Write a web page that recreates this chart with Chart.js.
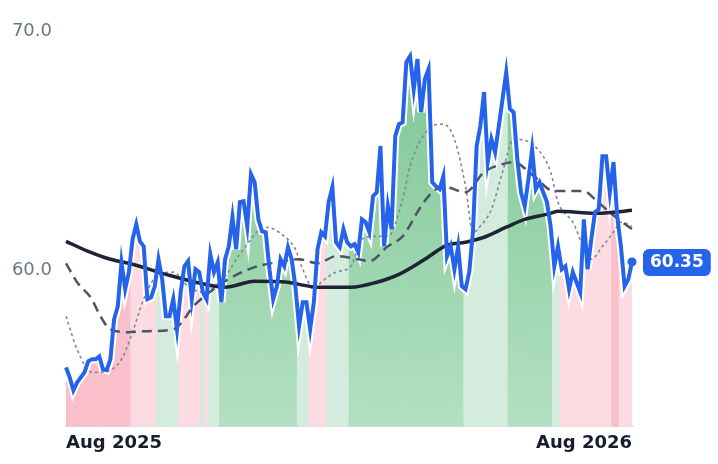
<!DOCTYPE html>
<html>
<head>
<meta charset="utf-8">
<script src="https://cdn.jsdelivr.net/npm/chart.js@4"></script>
<style>
  html, body { margin: 0; padding: 0; background: #fff; }
  #wrap { width: 718px; height: 464px; }
</style>
</head>
<body>
<div id="wrap"><canvas id="chart"></canvas></div>
<script>
const priceValues = [
  55.94, 55.52, 54.98, 55.31, 55.52, 55.73, 56.19, 56.28, 56.28, 56.40,
  55.86, 55.82, 56.28, 57.95, 58.49, 60.33, 59.21, 59.92, 61.30, 61.92,
  61.21, 61.00, 58.79, 58.87, 59.33, 60.46, 59.62, 58.08, 58.08, 58.79,
  57.53, 59.08, 60.17, 60.38, 58.79, 60.04, 59.92, 59.08, 58.79, 60.67,
  59.92, 60.33, 58.66, 60.46, 61.00, 62.22, 60.88, 62.85, 62.89, 61.84,
  64.02, 63.68, 62.13, 61.63, 61.59, 60.04, 58.79, 59.33, 60.46, 60.17,
  60.96, 60.46, 59.33, 57.66, 58.66, 58.66, 57.53, 58.66, 60.88, 61.59,
  61.42, 62.85, 63.47, 61.17, 60.96, 61.72, 61.17, 61.00, 61.09, 60.75,
  62.13, 62.01, 61.59, 63.10, 63.26, 65.19, 61.00, 62.68, 61.72, 65.61,
  66.11, 66.19, 68.70, 68.95, 67.57, 68.83, 66.61, 67.99, 68.41, 63.68,
  63.51, 63.39, 63.93, 60.59, 61.00, 60.04, 61.00, 59.33, 59.21, 59.92,
  61.59, 65.19, 66.03, 67.45, 64.52, 65.48, 64.94, 66.03, 67.15, 68.28,
  66.74, 66.61, 64.64, 63.26, 62.68, 63.81, 65.06, 63.39, 63.68, 63.26,
  62.85, 61.84, 60.17, 61.00, 60.04, 60.17, 59.21, 59.92, 59.50, 59.08,
  62.13, 60.04, 61.30, 62.43, 62.55, 64.77, 64.77, 63.26, 64.52, 62.26,
  61.00, 59.33, 59.62, 60.35
];

// [start index, regime]  D strong sell, P sell, g buy, G strong buy
const regimeStarts = [
  [0, 'D'], [18, 'P'], [25, 'g'], [31, 'P'], [37, 'g'], [38, 'P'], [39, 'g'],
  [42, 'G'], [63, 'g'], [66, 'P'], [71, 'g'], [77, 'G'], [108, 'g'], [120, 'G'],
  [132, 'g'], [134, 'P'], [148, 'D'], [150, 'P']
];

// moving averages, read at sample points: [index, value]
const maLong = [
  [0, 61.21], [6, 60.79], [12, 60.46], [18, 60.25], [27, 59.83], [35, 59.50],
  [43, 59.29], [51, 59.54], [60, 59.50], [63, 59.41], [68, 59.29], [77, 59.29],
  [84, 59.50], [90, 59.83], [97, 60.46], [103, 61.05], [108, 61.17], [113, 61.38],
  [119, 61.80], [124, 62.13], [131, 62.38], [133, 62.47], [143, 62.38], [148, 62.43],
  [153, 62.51]
];
const maMid = [
  [0, 60.29], [3, 59.50], [7, 58.79], [9, 58.16], [12, 57.53], [17, 57.41],
  [21, 57.45], [29, 57.53], [35, 58.58], [43, 59.54], [51, 60.13], [57, 60.33],
  [63, 60.46], [68, 60.29], [73, 60.59], [79, 60.46], [82, 60.38], [87, 61.00],
  [91, 61.42], [96, 62.68], [99, 63.26], [102, 63.51], [108, 63.26], [113, 64.10],
  [118, 64.44], [121, 64.52], [126, 64.00], [132, 63.31], [140, 63.31], [143, 62.97],
  [146, 62.55], [150, 62.05], [153, 61.72]
];
const maShort = [
  [0, 58.08], [3, 56.69], [7, 55.73], [11, 55.77], [15, 56.28], [18, 57.41],
  [21, 58.79], [25, 59.83], [29, 59.92], [33, 59.33], [37, 59.08], [43, 59.75],
  [47, 60.67], [54, 61.80], [59, 61.42], [62, 60.88], [64, 60.04], [67, 59.21],
  [69, 59.50], [73, 59.92], [77, 60.17], [80, 61.30], [84, 61.42], [87, 61.42],
  [91, 62.97], [93, 64.35], [98, 65.90], [102, 66.11], [105, 65.48], [108, 63.51],
  [110, 61.59], [112, 61.84], [115, 62.55], [118, 64.10], [121, 65.48], [127, 65.15],
  [131, 64.10], [133, 62.85], [137, 62.01], [142, 60.46], [145, 61.00], [148, 61.59],
  [150, 62.01], [153, 61.84]
];

const xTickLabels = ['Aug 2025', 'Aug 2026'];
const yTicks = [60, 70];

const n = priceValues.length;
const labels = priceValues.map((_, i) => i === 0 ? xTickLabels[0] : (i === n - 1 ? xTickLabels[1] : ''));

function sparse(pairs) {
  const arr = new Array(n).fill(null);
  pairs.forEach(([i, v]) => { arr[i] = v; });
  return arr;
}

const regimeOf = priceValues.map((_, i) => {
  let r = regimeStarts[0][1];
  regimeStarts.forEach(([s, code]) => { if (i >= s) r = code; });
  return r;
});

function barColor(ctx) {
  const chart = ctx.chart;
  const area = chart.chartArea;
  const code = regimeOf[ctx.dataIndex];
  if (code === 'G' && area) {
    const g = chart.ctx.createLinearGradient(0, area.top, 0, area.bottom);
    g.addColorStop(0, '#78c48f');
    g.addColorStop(1, '#b3e0c2');
    return g;
  }
  if (code === 'g') return '#d3ecde';
  if (code === 'D') return '#f9bfca';
  return '#fcdce2';
}

const lastLabel = {
  id: 'lastLabel',
  afterDatasetsDraw(chart) {
    const meta = chart.getDatasetMeta(1);
    const pt = meta.data[meta.data.length - 1];
    if (!pt) return;
    const { ctx } = chart;
    ctx.save();
    ctx.fillStyle = '#2563eb';
    ctx.beginPath();
    ctx.arc(pt.x, pt.y, 4.5, 0, Math.PI * 2);
    ctx.fill();
    const text = priceValues[n - 1].toFixed(2);
    ctx.font = 'bold 17px "DejaVu Sans"';
    const w = ctx.measureText(text).width + 14;
    const x = pt.x + 11, y = pt.y - 13;
    ctx.beginPath();
    ctx.roundRect(x, y, w, 27, 6);
    ctx.fill();
    ctx.fillStyle = '#fff';
    ctx.textBaseline = 'middle';
    ctx.fillText(text, x + 7, y + 14);
    ctx.restore();
  }
};

const maStyle = { pointRadius: 0, spanGaps: true, cubicInterpolationMode: 'monotone' };

new Chart(document.getElementById('chart'), {
  data: {
    labels: labels,
    datasets: [
      {
        type: 'line', data: priceValues, borderColor: '#ffffff', borderWidth: 8,
        pointRadius: 0, order: 4
      },
      {
        type: 'line', data: priceValues, borderColor: '#2563eb', borderWidth: 4,
        pointRadius: 0, order: 0
      },
      Object.assign({
        type: 'line', data: sparse(maLong), borderColor: '#1e2433', borderWidth: 3.5, order: 1
      }, maStyle),
      Object.assign({
        type: 'line', data: sparse(maMid), borderColor: '#4b5563', borderWidth: 2.5,
        borderDash: [10, 6], order: 2
      }, maStyle),
      Object.assign({
        type: 'line', data: sparse(maShort), borderColor: '#7f8898', borderWidth: 1.6,
        borderDash: [3, 3], order: 3
      }, maStyle),
      {
        type: 'bar', data: priceValues, backgroundColor: barColor,
        barPercentage: 1, categoryPercentage: 1, order: 5
      }
    ]
  },
  options: {
    responsive: true,
    maintainAspectRatio: false,
    animation: false,
    layout: { padding: { top: 13, right: 86, left: 0, bottom: 4 } },
    plugins: { legend: { display: false }, tooltip: { enabled: false } },
    scales: {
      x: {
        offset: false,
        grid: { display: false, drawTicks: false },
        border: { display: true, color: '#d6dce4', width: 2 },
        ticks: {
          autoSkip: false, maxRotation: 0, align: 'inner', padding: 6,
          color: '#161d2b', font: { family: 'DejaVu Sans', size: 18, weight: 'bold' },
          callback: (v, i) => labels[i] || null
        }
      },
      y: {
        min: 53.47, max: 70.6,
        grid: { display: false },
        border: { display: false },
        afterBuildTicks: (axis) => { axis.ticks = yTicks.map(v => ({ value: v })); },
        afterFit: (axis) => { axis.width = 66; },
        ticks: {
          color: '#6b7788', padding: 6,
          font: { family: 'DejaVu Sans', size: 18 },
          callback: (v) => v.toFixed(1)
        }
      }
    }
  },
  plugins: [lastLabel]
});
</script>
</body>
</html>
